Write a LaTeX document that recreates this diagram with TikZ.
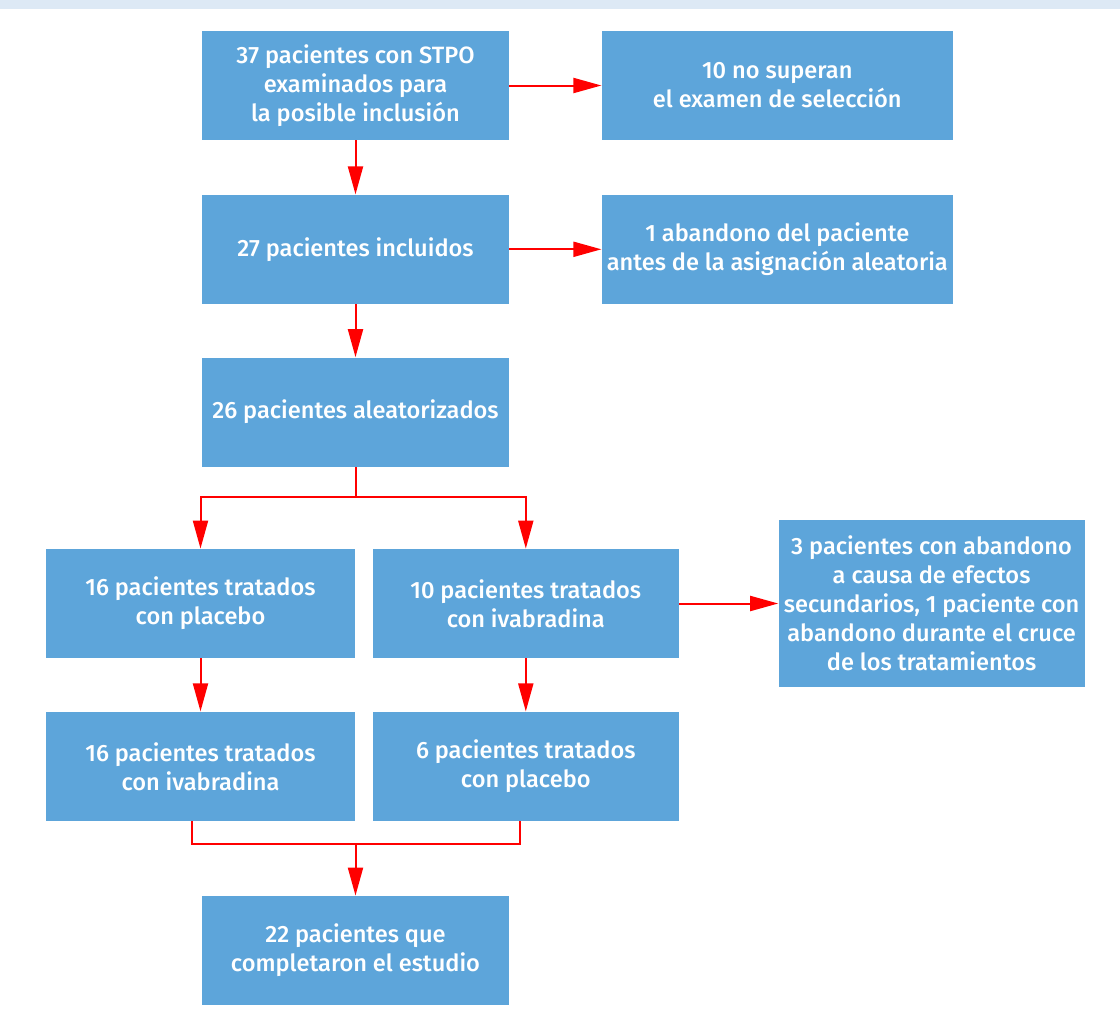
\documentclass[tikz,border=0pt]{standalone}
\usepackage{fontspec}
\setmainfont{Fira Sans}[UprightFont={* Medium}]
\usetikzlibrary{positioning,arrows.meta}

\definecolor{boxblue}{RGB}{93,165,218}
\definecolor{bandblue}{RGB}{221,233,245}
\definecolor{arrred}{RGB}{255,0,0}

\tikzset{
  box/.style={fill=boxblue, text=white, align=center, inner sep=0pt,
    minimum width=153.5pt, minimum height=54.5pt,
    font=\fontsize{11.8}{14.5}\selectfont},
  link/.style={draw=arrred, line width=1pt},
  arr/.style={link, -{Triangle[length=14pt,width=7.5pt]}}
}

\begin{document}
\begin{tikzpicture}[x=0.5pt,y=-0.5pt]
  \useasboundingbox (0,0) rectangle (1120,1012);
  \fill[bandblue] (0,0) rectangle (1120,9);
  % main column
  \node[box] (exam) at (355.5,85.5) {37 pacientes con STPO\\examinados para\\la posible inclusión};
  \node[box, minimum width=175.5pt, right=46pt of exam] (noexam) {10 no superan\\el examen de selección};
  \node[box, below=27pt of exam] (incl) {27 pacientes incluidos};
  \node[box, minimum width=175.5pt, right=46pt of incl] (drop) {1 abandono del paciente\\antes de la asignación aleatoria};
  \node[box, below=26.5pt of incl] (rand) {26 pacientes aleatorizados};
  % the two arms
  \node[box, minimum width=154.5pt] (plac) at (200.5,603.5) {16 pacientes tratados\\con placebo};
  \node[box, minimum width=153pt, right=8.5pt of plac] (ivab) {10 pacientes tratados\\con ivabradina};
  \node[box, minimum width=153pt, minimum height=83.5pt, right=49.5pt of ivab] (side) {3 pacientes con abandono\\a causa de efectos\\secundarios, 1 paciente con\\abandono durante el cruce\\de los tratamientos};
  \node[box, minimum width=154.5pt, below=26.5pt of plac] (ivabB) {16 pacientes tratados\\con ivabradina};
  \node[box, minimum width=153pt, below=26.5pt of ivab] (placB) {6 pacientes tratados\\con placebo};
  \node[box] (compl) at (355.5,950.5) {22 pacientes que\\completaron el estudio};

  \draw[arr] (exam) -- (noexam);
  \draw[arr] (exam) -- (incl);
  \draw[arr] (incl) -- (drop);
  \draw[arr] (incl) -- (rand);
  % split after randomisation
  \draw[arr] (rand.south) -- ++(0,30) -| (plac.north);
  \draw[arr] (rand.south) -- ++(0,30) -| (ivab.north);
  \draw[arr] (ivab) -- (side);
  \draw[arr] (plac) -- (ivabB);
  \draw[arr] (ivab) -- (placB);
  % join of both arms
  \draw[link] ([xshift=-4.25pt]ivabB.south) -- ++(0,23) coordinate (m1) -| ([xshift=-3pt]placB.south);
  \draw[arr] (m1 -| compl.north) -- (compl.north);
\end{tikzpicture}
\end{document}
